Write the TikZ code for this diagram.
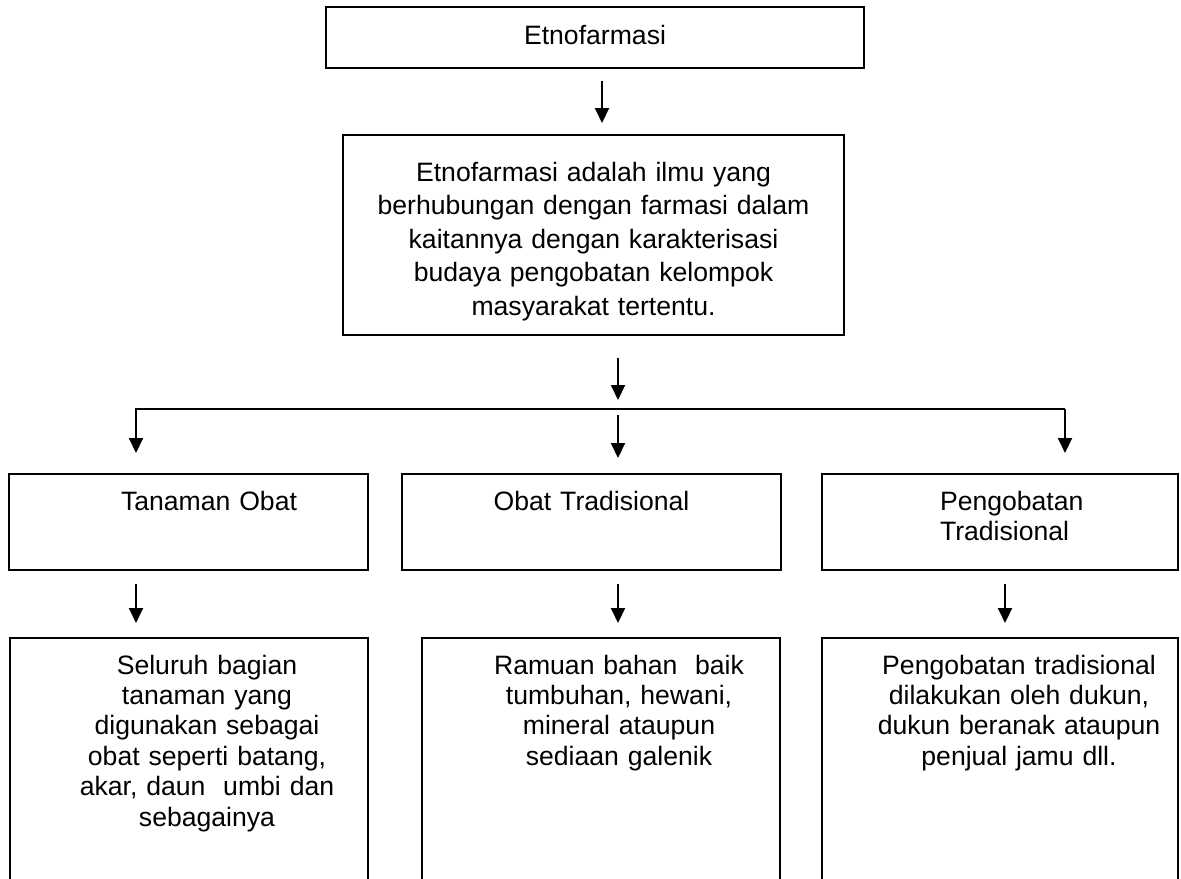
\documentclass[tikz,border=0pt]{standalone}
\usepackage{fontspec}
\setmainfont{Liberation Sans}
\usetikzlibrary{arrows.meta}

% isi kotak, digeser ke kanan sejauh #1
\newcommand{\isi}[3][c]{\begin{tabular}[t]{@{\hspace{#2}}#1@{}}#3\end{tabular}}

\begin{document}
\begin{tikzpicture}[
    x=0.5pt, y=-0.5pt,
    box/.style={
        rectangle,
        draw=black,
        line width=1pt,
        inner sep=0pt,
        anchor=north,
        font=\fontsize{13.3}{15.2}\selectfont
    },
    head box/.style={
        box,
        align=center,
        text height=18pt,
        text depth=30pt
    },
    info box/.style={
        box,
        align=center,
        text height=18pt,
        text depth=116pt
    },
    link/.style={
        -{Triangle[length=7.5pt,width=7pt]},
        line width=1pt
    }
]

\useasboundingbox (0,0) rectangle (1181,878);
\clip (0,0) rectangle (1181,878);

% Judul
\node[box, align=center, text width=269pt, text height=18.5pt, text depth=12pt]
      (etno) at (595,6) {Etnofarmasi};

% Definisi
\node[box, align=center, text width=250.5pt, text height=23pt, text depth=77pt,
      font=\fontsize{13.3}{16.75}\selectfont] (definisi) at (593.5,134) {
    Etnofarmasi adalah ilmu yang\\ berhubungan dengan farmasi dalam\\
    kaitannya dengan karakterisasi\\ budaya pengobatan kelompok\\
    masyarakat tertentu.
};

% Tiga cabang
\node[head box, text width=179.5pt] (tanaman) at (188.5,473) {\isi{20.5pt}{Tanaman Obat}};
\node[head box, text width=189.5pt] (obat) at (591.5,473) {Obat Tradisional};
\node[head box, text width=178pt, align=left] (pengobatan) at (1000,473) {
    \isi[l]{59pt}{Pengobatan\\ Tradisional}
};

% Penjelasan
\node[info box, text width=179pt] (seluruh) at (189,637) {
    \isi{18pt}{Seluruh bagian\\ tanaman yang\\ digunakan sebagai\\
    obat seperti batang,\\ akar, daun\ \ umbi dan\\ sebagainya}
};
\node[info box, text width=179pt] (ramuan) at (601,637) {
    \isi{18pt}{Ramuan bahan\ \ baik\\ tumbuhan, hewani,\\
    mineral ataupun\\ sediaan galenik}
};
\node[info box, text width=178pt] (dukun) at (1000,637) {
    \isi{19pt}{Pengobatan tradisional\\ dilakukan oleh dukun,\\
    dukun beranak ataupun\\ penjual jamu dll.}
};

% Panah
\draw[link] ([xshift=3.5pt,yshift=-6pt]etno.south) -- ([xshift=4.25pt,yshift=5.5pt]definisi.north);

\coordinate (cabang) at (618,409);
\coordinate (kiri) at (136,409);
\coordinate (kanan) at (1065,409);

\draw[link, shorten <=11pt, shorten >=4.5pt] (definisi.south -| cabang) -- (cabang);
\draw[link, shorten >=10pt] (kanan) -- (kiri) -- (kiri |- tanaman.north);
\draw[link, shorten >=10pt] (kanan) -- (kanan |- pengobatan.north);
\draw[link, shorten <=3pt, shorten >=7.5pt] (cabang) -- (cabang |- obat.north);

\draw[link, shorten <=6.5pt, shorten >=7pt] (kiri |- tanaman.south) -- (kiri |- seluruh.north);
\draw[link, shorten <=6.5pt, shorten >=7pt] (cabang |- obat.south) -- (cabang |- ramuan.north);
\draw[link, shorten <=6.5pt, shorten >=7pt] ([xshift=2.5pt]pengobatan.south) -- ([xshift=2.5pt]pengobatan.south |- dukun.north);

\end{tikzpicture}
\end{document}
